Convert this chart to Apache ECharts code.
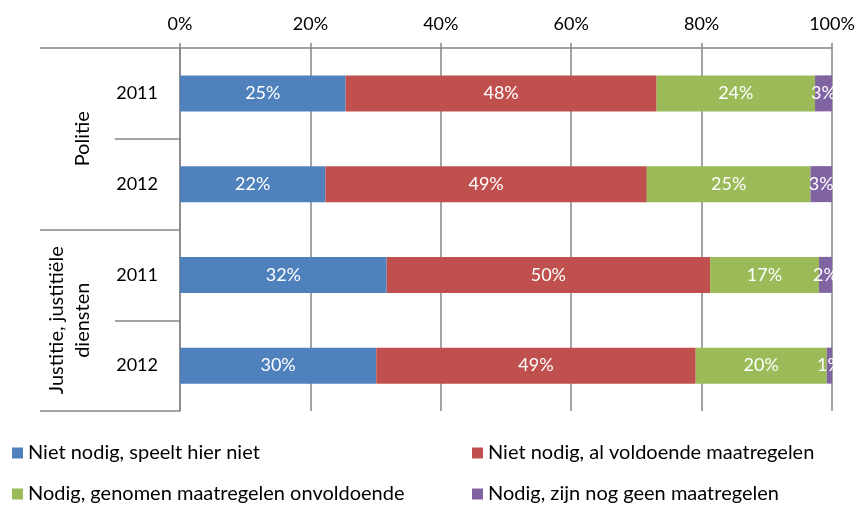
<!DOCTYPE html>
<html>
<head>
<meta charset="utf-8">
<script src="https://cdn.jsdelivr.net/npm/echarts@6/dist/echarts.min.js"></script>
<style>
html,body{margin:0;padding:0;background:#fff;}
#chart{width:858px;height:506px;}
</style>
</head>
<body>
<div id="chart"></div>
<script>
// ---- data ----
const years = ['2011', '2012', '2011', '2012'];
const groups = ['Politie', 'Justitie, justitiële\ndiensten'];
const seriesNames = [
  'Niet nodig, speelt hier niet',
  'Niet nodig, al voldoende maatregelen',
  'Nodig, genomen maatregelen onvoldoende',
  'Nodig, zijn nog geen maatregelen'
];
const nietNodigSpeelt = [25.4, 22.3, 31.7, 30.1];
const nietNodigVoldoende = [47.7, 49.3, 49.6, 49.0];
const nodigOnvoldoende = [24.3, 25.1, 16.7, 20.1];
const nodigGeen = [2.6, 3.3, 2.0, 0.8];
const xTicks = [0, 20, 40, 60, 80, 100];
const colors = ['#4F81BD', '#C0504D', '#9BBB59', '#8064A2'];

const FONT = 'Lato';
const GRAY = '#868686';
const values = [nietNodigSpeelt, nietNodigVoldoende, nodigOnvoldoende, nodigGeen];
const yearIds = years.map((y, i) => i + '|' + y);

// legend placement: 2 columns x 2 rows
const legendPos = [
  {left: 12, top: 443}, {left: 472, top: 443},
  {left: 12, top: 484}, {left: 472, top: 484}
];

const chart = echarts.init(document.getElementById('chart'), null, {renderer: 'canvas'});
chart.setOption({
  animation: false,
  color: colors,
  textStyle: {fontFamily: FONT},
  grid: {left: 180, right: 26, top: 48, bottom: 95, containLabel: false},
  xAxis: {
    type: 'value', position: 'top',
    min: xTicks[0], max: xTicks[xTicks.length - 1], interval: xTicks[1] - xTicks[0],
    axisLine: {show: true, lineStyle: {color: GRAY, width: 1.5}},
    axisTick: {show: true, length: 5, lineStyle: {color: GRAY, width: 1.5}},
    splitLine: {show: true, lineStyle: {color: GRAY, width: 1.5}},
    axisLabel: {formatter: '{value}%', color: '#000', fontSize: 18, fontFamily: FONT, margin: 15}
  },
  yAxis: [
    {
      type: 'category', inverse: true, data: yearIds, position: 'left',
      axisLine: {show: true, lineStyle: {color: GRAY, width: 1.5}},
      axisTick: {show: true, length: 65, interval: 0, lineStyle: {color: GRAY, width: 1.5}},
      axisLabel: {interval: 0, formatter: v => v.split('|')[1], color: '#000', fontSize: 18, fontFamily: FONT, margin: 22}
    },
    {
      type: 'category', inverse: true, data: groups, position: 'left',
      axisLine: {show: false},
      axisTick: {show: true, length: 140, interval: 0, lineStyle: {color: GRAY, width: 1.5}},
      axisLabel: {interval: 0, hideOverlap: false, rotate: 90, color: '#000', fontSize: 20, fontFamily: FONT, margin: 84, lineHeight: 26}
    }
  ],
  legend: seriesNames.map((n, i) => ({
    data: [n], orient: 'horizontal', left: legendPos[i].left, top: legendPos[i].top,
    itemWidth: 11, itemHeight: 11, icon: 'rect', padding: 0,
    textStyle: {color: '#000', fontSize: 20, fontFamily: FONT}
  })),
  graphic: [{
    type: 'rect', z: 100, left: 834, top: 60, shape: {width: 24, height: 340},
    style: {fill: '#fff'}
  }],
  series: values.map((vals, i) => ({
    name: seriesNames[i], type: 'bar', stack: 'total', barWidth: 36,
    yAxisIndex: 0,
    data: vals,
    itemStyle: {color: colors[i]},
    label: {
      show: true, position: 'inside', color: '#fff', fontSize: 18, fontFamily: FONT,
      formatter: p => Math.round(p.value) + '%'
    }
  }))
});
</script>
</body>
</html>
